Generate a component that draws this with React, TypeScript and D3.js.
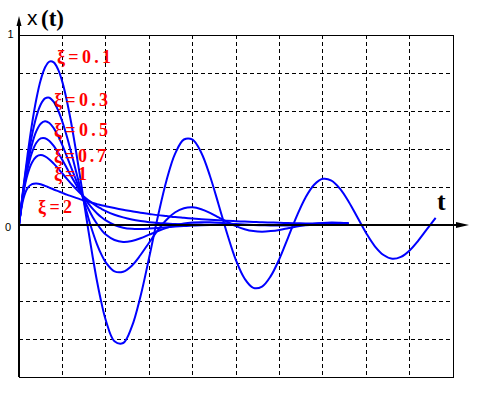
import React from "react";
import * as d3 from "d3";

// time samples (one grid division = 1)
const T = [
	0, 0.1, 0.2, 0.3, 0.4, 0.5, 0.6, 0.7, 0.8, 0.9, 1.0, 1.1, 1.2, 1.3, 1.4, 1.5,
	1.6, 1.7, 1.8, 1.9, 2.0, 2.2, 2.4, 2.6, 2.8, 3.0, 3.2, 3.4, 3.6, 3.8, 4.0,
	4.2, 4.4, 4.6, 4.8, 5.0, 5.2, 5.4, 5.6, 5.8, 6.0, 6.2, 6.4, 6.6, 6.8, 7.0,
	7.2, 7.4, 7.6, 7.8, 8.0, 8.2, 8.4, 8.6, 8.8, 9.0, 9.2, 9.4, 9.6,
];

// x(t) values
const XI_01 = [
	0, 0.195, 0.374, 0.532, 0.663, 0.763, 0.829, 0.86, 0.856, 0.819, 0.752, 0.657,
	0.541, 0.408, 0.265, 0.116, -0.031, -0.171, -0.299, -0.41, -0.501, -0.612,
	-0.621, -0.535, -0.375, -0.17, 0.045, 0.236, 0.377, 0.45, 0.449, 0.38, 0.258,
	0.107, -0.049, -0.186, -0.283, -0.331, -0.324, -0.269, -0.178, -0.066, 0.047,
	0.144, 0.212, 0.243, 0.234, 0.19, 0.121, 0.039, -0.043, -0.112, -0.158,
	-0.178, -0.168, -0.134, -0.082, -0.022, 0.037,
];
const XI_03 = [
	0, 0.187, 0.346, 0.474, 0.57, 0.634, 0.666, 0.67, 0.648, 0.604, 0.543, 0.468,
	0.384, 0.295, 0.205, 0.118, 0.036, -0.038, -0.103, -0.156, -0.197, -0.244,
	-0.246, -0.214, -0.158, -0.092, -0.027, 0.028, 0.067, 0.088, 0.093, 0.083,
	0.064, 0.04, 0.016, -0.006, -0.022, -0.032, -0.035, -0.032, -0.026, -0.017,
	-0.008, 0.0, 0.007, 0.011, 0.013, 0.012, 0.01,
];
const XI_05 = [
	0, 0.18, 0.321, 0.425, 0.494, 0.533, 0.546, 0.537, 0.51, 0.469, 0.419, 0.363,
	0.304, 0.245, 0.187, 0.133, 0.084, 0.041, 0.005, -0.026, -0.05, -0.079,
	-0.089, -0.084, -0.07, -0.051, -0.032, -0.015, -0.002, 0.008, 0.013, 0.015,
	0.014, 0.012, 0.009, 0.005, 0.002, 0.0, -0.001, -0.002, -0.002, -0.002,
	-0.001, -0.001, 0, 0, 0, 0, 0,
];
const XI_07 = [
	0, 0.173, 0.298, 0.382, 0.433, 0.456, 0.457, 0.442, 0.416, 0.381, 0.342, 0.3,
	0.258, 0.218, 0.179, 0.144, 0.113, 0.085, 0.061, 0.041, 0.024, 0.0, -0.014,
	-0.02, -0.021, -0.019, -0.016, -0.012, -0.008, -0.005, -0.003, -0.001, 0, 0,
	0, 0, 0, 0, 0, 0, 0, 0, 0, 0, 0, 0, 0, 0, 0,
];
const XI_1 = [
	0, 0.164, 0.268, 0.329, 0.36, 0.368, 0.361, 0.345, 0.323, 0.298, 0.271, 0.244,
	0.218, 0.193, 0.17, 0.149, 0.13, 0.114, 0.098, 0.085, 0.073, 0.054, 0.04,
	0.029, 0.021, 0.015, 0.011, 0.008, 0.005, 0.004, 0.003, 0.002, 0.001, 0.001,
	0.001, 0, 0, 0, 0, 0, 0, 0, 0, 0, 0, 0, 0, 0, 0,
];
const XI_2 = [
	0, 0.137, 0.195, 0.215, 0.218, 0.214, 0.206, 0.197, 0.187, 0.178, 0.169, 0.16,
	0.152, 0.144, 0.136, 0.129, 0.123, 0.116, 0.11, 0.104, 0.099, 0.089, 0.08,
	0.072, 0.064, 0.058, 0.052, 0.047, 0.042, 0.038, 0.034, 0.03, 0.027, 0.025,
	0.022, 0.02, 0.018, 0.016, 0.014, 0.013, 0.012, 0.01, 0.009, 0.008, 0.008,
	0.007, 0.006, 0.006, 0.005,
];

const SERIES = [XI_01, XI_03, XI_05, XI_07, XI_1, XI_2];
const LABELS = ["ξ=0.1", "ξ=0.3", "ξ=0.5", "ξ=0.7", "ξ=1", "ξ=2"];

const GRID_T = [1, 2, 3, 4, 5, 6, 7, 8, 9];
const GRID_V = [0.8, 0.6, 0.4, 0.2, -0.2, -0.4, -0.6];

const W = 485;
const H = 399;

export default function App() {
	const x = d3.scaleLinear().domain([0, 10]).range([19, 453]);
	const y = d3.scaleLinear().domain([-0.8, 1]).range([377, 35]);

	const line = d3
		.line<number>()
		.x((_, i) => x(T[i]))
		.y((d) => y(d))
		.curve(d3.curveCatmullRom.alpha(0.5));

	// label placement (left edge, baseline, width) in pixels
	const labelPos = [
		[57, 63, 54],
		[54, 106, 54],
		[54, 136, 54],
		[54, 162, 52],
		[54, 180, 33],
		[38, 213, 34],
	];

	const x0 = x(0);
	const y0 = y(0);

	return (
		<div style={{ position: "absolute", left: 0, top: 0 }}>
			<svg width={W} height={H} style={{ display: "block", background: "#fff" }}>
				{/* grid */}
				<g stroke="#000" strokeWidth={1} strokeDasharray="4,3" shapeRendering="crispEdges">
					{GRID_T.map((t) => (
						<line key={"gx" + t} x1={x(t)} x2={x(t)} y1={y(1)} y2={y(-0.8)} />
					))}
					{GRID_V.map((v) => (
						<line key={"gy" + v} x1={x(0)} x2={x(10)} y1={y(v)} y2={y(v)} />
					))}
				</g>
				<rect
					x={x(0)}
					y={y(1)}
					width={x(10) - x(0)}
					height={y(-0.8) - y(1)}
					fill="none"
					stroke="#000"
					strokeWidth={1}
					shapeRendering="crispEdges"
				/>

				{/* curves */}
				<g fill="none" stroke="#0000ff" strokeWidth={2} strokeLinejoin="round">
					{SERIES.map((s, i) => (
						<path key={i} d={line(s) || ""} />
					))}
				</g>

				{/* axes */}
				<line x1={x0} x2={x0} y1={y(-0.8)} y2={24} stroke="#000" strokeWidth={2} />
				<polygon points={`${x0},16 ${x0 - 2.5},26 ${x0 + 2.5},26`} fill="#000" />
				<line x1={x0} x2={458} y1={y0} y2={y0} stroke="#000" strokeWidth={2} />
				<polygon points={`469,${y0} 456,${y0 - 3} 456,${y0 + 3}`} fill="#000" />

				<text x={13.5} y={38} textAnchor="end" fontFamily="Liberation Sans, Arial, sans-serif" fontSize={11} fill="#000">
					1
				</text>
				<text x={11} y={231} textAnchor="end" fontFamily="Liberation Sans, Arial, sans-serif" fontSize={11} fill="#000">
					0
				</text>

				<text x={27} y={25} fontFamily="Liberation Sans, Arial, sans-serif" fontSize={21} fill="#000">
					x
				</text>
				<text x={41} y={26} fontFamily="Liberation Serif, Times New Roman, serif" fontWeight="bold" fontSize={23} fill="#000">
					(t)
				</text>
				<text x={437} y={210} fontFamily="Liberation Serif, Times New Roman, serif" fontWeight="bold" fontSize={26} fill="#000">
					t
				</text>

				{/* damping labels */}
				<g fill="#ff0000" fontFamily="Liberation Serif, Times New Roman, serif" fontWeight="bold" fontSize={18}>
					{LABELS.map((l, i) => (
						<text
							key={l}
							x={labelPos[i][0]}
							y={labelPos[i][1]}
							textLength={labelPos[i][2]}
							lengthAdjust="spacing"
						>
							{l}
						</text>
					))}
				</g>
			</svg>
		</div>
	);
}
